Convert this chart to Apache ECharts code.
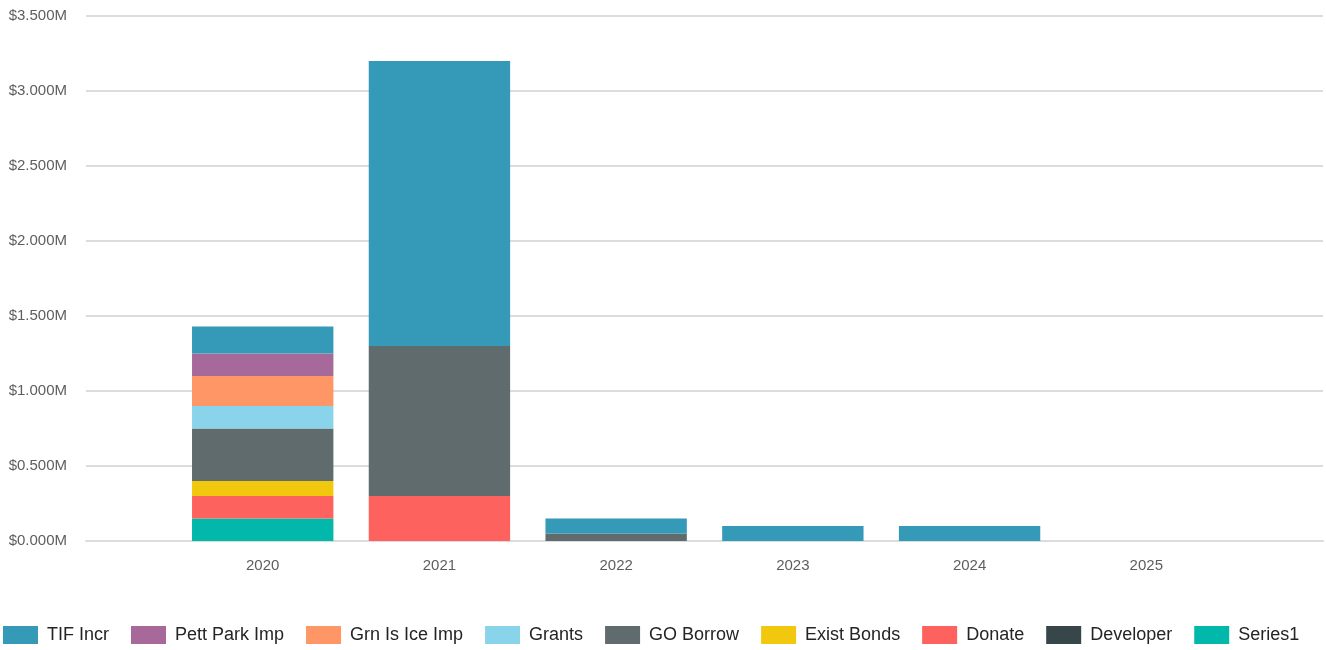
<!DOCTYPE html>
<html>
<head>
<meta charset="utf-8">
<script src="https://cdn.jsdelivr.net/npm/echarts@6/dist/echarts.min.js"></script>
<style>
html,body{margin:0;padding:0;background:#fff;}
#chart{width:1326px;height:650px;}
</style>
</head>
<body>
<div id="chart"></div>
<script>
// Data (values in $ millions)
const years = ['2020', '2021', '2022', '2023', '2024', '2025'];
const series1    = [0.15, 0,    0,    0,   0,   0];
const developer  = [0,    0,    0,    0,   0,   0];
const donate     = [0.15, 0.30, 0,    0,   0,   0];
const existBonds = [0.10, 0,    0,    0,   0,   0];
const goBorrow   = [0.35, 1.00, 0.05, 0,   0,   0];
const grants     = [0.15, 0,    0,    0,   0,   0];
const grnIsIce   = [0.20, 0,    0,    0,   0,   0];
const pettPark   = [0.15, 0,    0,    0,   0,   0];
const tifIncr    = [0.18, 1.90, 0.10, 0.10, 0.10, 0];
const yTicks = [0, 0.5, 1.0, 1.5, 2.0, 2.5, 3.0, 3.5];
const legendOrder = ['TIF Incr', 'Pett Park Imp', 'Grn Is Ice Imp', 'Grants', 'GO Borrow', 'Exist Bonds', 'Donate', 'Developer', 'Series1'];

const stackDefs = [
  ['Series1', series1, '#01B8AA'],
  ['Developer', developer, '#374649'],
  ['Donate', donate, '#FD625E'],
  ['Exist Bonds', existBonds, '#F2C80F'],
  ['GO Borrow', goBorrow, '#5F6B6D'],
  ['Grants', grants, '#8AD4EB'],
  ['Grn Is Ice Imp', grnIsIce, '#FE9666'],
  ['Pett Park Imp', pettPark, '#A66999'],
  ['TIF Incr', tifIncr, '#3599B8']
];

const axisCats = [''].concat(years, ['']);
const font = "'Liberation Sans', Arial, sans-serif";

const chart = echarts.init(document.getElementById('chart'));
chart.setOption({
  animation: false,
  backgroundColor: '#ffffff',
  textStyle: { fontFamily: font },
  grid: { left: 86, right: 0, top: 16, bottom: 109, containLabel: false },
  legend: {
    data: legendOrder,
    left: 3,
    top: 626,
    padding: 0,
    icon: 'rect',
    itemWidth: 35,
    itemHeight: 18,
    itemGap: 22,
    textStyle: { fontSize: 18, color: '#252423', fontFamily: font, padding: [0, 0, 0, 4] }
  },
  xAxis: {
    type: 'category',
    data: axisCats,
    boundaryGap: false,
    axisTick: { show: false },
    axisLine: { show: true, lineStyle: { color: '#dcdcdc', width: 2 } },
    axisLabel: { color: '#605E5C', fontSize: 15, margin: 17, fontFamily: font, interval: 0 },
    splitLine: { show: false }
  },
  yAxis: {
    type: 'value',
    min: yTicks[0],
    max: yTicks[yTicks.length - 1],
    interval: 0.5,
    axisLine: { show: false },
    axisTick: { show: false },
    axisLabel: {
      color: '#605E5C', fontSize: 15, margin: 19, fontFamily: font,
      formatter: v => '$' + v.toFixed(3) + 'M'
    },
    splitLine: { lineStyle: { color: '#dcdcdc', width: 2 } }
  },
  series: stackDefs.map(([name, vals, color]) => ({
    name: name,
    type: 'bar',
    stack: 'total',
    barWidth: '80%',
    itemStyle: { color: color },
    data: [null].concat(vals.map(v => v === 0 ? null : v), [null])
  }))
});
</script>
</body>
</html>
